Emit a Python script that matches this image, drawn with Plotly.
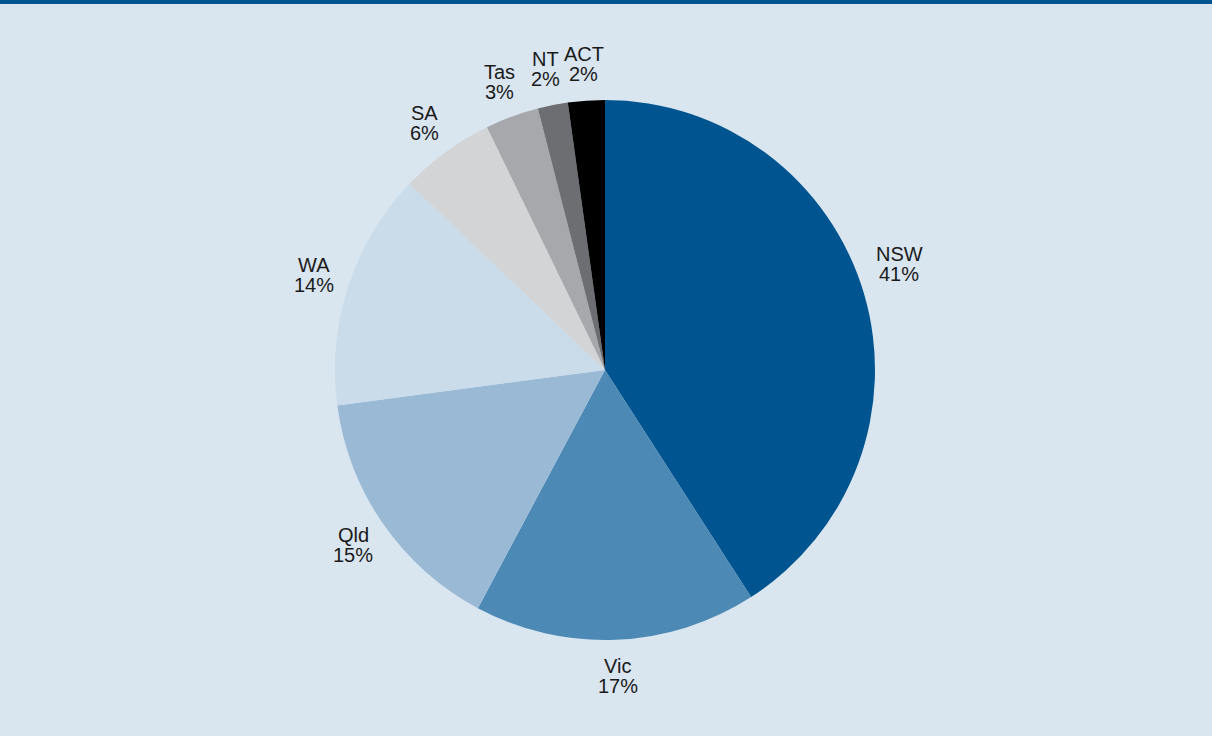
import numpy as np
import plotly.graph_objects as go

# State shares, clockwise from 12 o'clock
states = ["NSW", "Vic", "Qld", "WA", "SA", "Tas", "NT", "ACT"]
shares = [40.9, 16.9, 15.1, 14.2, 5.7, 3.2, 1.8, 2.2]
share_labels = ["41%", "17%", "15%", "14%", "6%", "3%", "2%", "2%"]
colors = ["#00548f", "#4d89b5", "#9ab9d5", "#cadcea",
          "#d3d4d6", "#a6a8ab", "#6d6e71", "#000000"]

BG = "#d9e5ef"
W, H = 1212, 736
MT, MB, ML, MR = 100, 96, 0, 2
R_PX = (H - MT - MB) / 2          # pie radius in pixels
CX = ML + (W - ML - MR) / 2       # pie centre in pixels
CY = MT + R_PX
LABEL_R = 1.135                   # label distance, in radii
LINE = 20                         # label line pitch, px
label_nudge = {"NSW": -20}        # manual tweak, px (up is negative)

fig = go.Figure(go.Pie(
    labels=states,
    values=shares,
    textinfo="none",
    hoverinfo="label+percent",
    marker=dict(colors=colors, line=dict(width=0)),
    sort=False,
    direction="clockwise",
    rotation=0,
    showlegend=False,
))

# labels sit just outside each slice, at its mid-angle
font = dict(family="Liberation Sans, Arial, sans-serif", size=20, color="#1a1a1a")
total = sum(shares)
cum = np.cumsum([0] + shares[:-1])
pw, ph = W - ML - MR, H - MT - MB
for st, val, lab, c0 in zip(states, shares, share_labels, cum):
    ang = np.deg2rad((c0 + val / 2) / total * 360)
    px = CX + LABEL_R * R_PX * np.sin(ang)
    py = CY - LABEL_R * R_PX * np.cos(ang) + label_nudge.get(st, 0)
    for txt, shift in ((st, LINE / 2), (lab, -LINE / 2)):
        fig.add_annotation(
            x=(px - ML) / pw, y=1 - (py - MT) / ph,
            xref="paper", yref="paper",
            text=txt, showarrow=False, yshift=shift,
            xanchor="center", yanchor="middle", align="center",
            font=font,
        )

fig.update_layout(
    width=W, height=H,
    paper_bgcolor=BG,
    plot_bgcolor=BG,
    margin=dict(l=ML, r=MR, t=MT, b=MB),
)

# dark blue rule along the top edge
fig.add_shape(type="rect", xref="paper", yref="paper",
              x0=-0.01, x1=1.01, y0=1 + (MT - 4) / ph, y1=1 + (MT + 2) / ph,
              fillcolor="#00548f", line=dict(width=0), layer="above")

fig.write_html("out.html", config={"displayModeBar": False},
               post_script="document.body.style.margin='0';")
